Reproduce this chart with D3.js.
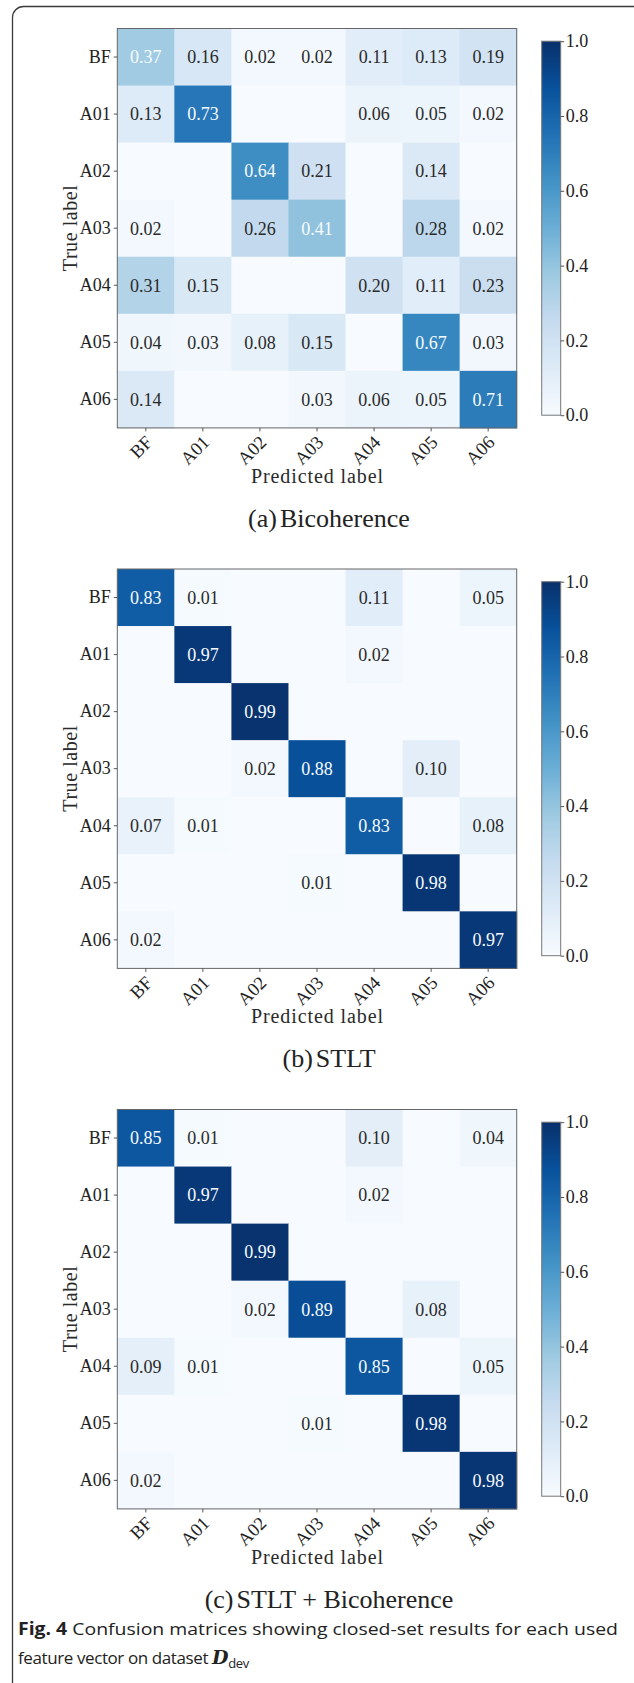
<!DOCTYPE html>
<html>
<head>
<meta charset="utf-8">
<script src="https://cdn.jsdelivr.net/npm/d3@7"></script>
<style>
  body { margin: 0; background: #fff; }
  svg { display: block; }
  .tick text { fill: #222; }
</style>
</head>
<body>
<div id="chart"></div>
<script>
const labels = ["BF", "A01", "A02", "A03", "A04", "A05", "A06"];

// rows = true label, columns = predicted label (0 = blank cell)
const bicoherence = [
  [0.37, 0.16, 0.02, 0.02, 0.11, 0.13, 0.19],
  [0.13, 0.73, 0, 0, 0.06, 0.05, 0.02],
  [0, 0, 0.64, 0.21, 0, 0.14, 0],
  [0.02, 0, 0.26, 0.41, 0, 0.28, 0.02],
  [0.31, 0.15, 0, 0, 0.20, 0.11, 0.23],
  [0.04, 0.03, 0.08, 0.15, 0, 0.67, 0.03],
  [0.14, 0, 0, 0.03, 0.06, 0.05, 0.71]
];
const stlt = [
  [0.83, 0.01, 0, 0, 0.11, 0, 0.05],
  [0, 0.97, 0, 0, 0.02, 0, 0],
  [0, 0, 0.99, 0, 0, 0, 0],
  [0, 0, 0.02, 0.88, 0, 0.10, 0],
  [0.07, 0.01, 0, 0, 0.83, 0, 0.08],
  [0, 0, 0, 0.01, 0, 0.98, 0],
  [0.02, 0, 0, 0, 0, 0, 0.97]
];
const stltBicoherence = [
  [0.85, 0.01, 0, 0, 0.10, 0, 0.04],
  [0, 0.97, 0, 0, 0.02, 0, 0],
  [0, 0, 0.99, 0, 0, 0, 0],
  [0, 0, 0.02, 0.89, 0, 0.08, 0],
  [0.09, 0.01, 0, 0, 0.85, 0, 0.05],
  [0, 0, 0, 0.01, 0, 0.98, 0],
  [0.02, 0, 0, 0, 0, 0, 0.98]
];
const panelTags = ["(a)", "(b)", "(c)"];
const panelNames = ["Bicoherence", "STLT", "STLT + Bicoherence"];
const colorbarTicks = [0, 0.2, 0.4, 0.6, 0.8, 1.0];

const width = 634;
const height = 1683;
const serif = "'Liberation Serif', 'Times New Roman', serif";
const panelStep = 540.5;
const firstTop = 28.5;
const matrixLeft = 117.3;
const matrixSize = 399.4;

const blues = d3.scaleLinear()
  .domain(d3.range(9).map((i) => i / 8))
  .range(d3.schemeBlues[9])
  .interpolate(d3.interpolateRgb)
  .clamp(true);

const svg = d3.select("#chart").append("svg")
  .attr("width", width)
  .attr("height", height)
  .attr("viewBox", `0 0 ${width} ${height}`);

svg.append("rect").attr("width", width).attr("height", height).attr("fill", "#fff");

// page frame (cut off on the right and at the bottom)
svg.append("rect")
  .attr("x", 12.5).attr("y", 6.5)
  .attr("width", 660).attr("height", 1720)
  .attr("rx", 11)
  .attr("fill", "none")
  .attr("stroke", "#3a3a3a")
  .attr("stroke-width", 1.3);

const gradient = svg.append("defs").append("linearGradient")
  .attr("id", "blues-grad")
  .attr("x1", 0).attr("y1", 1).attr("x2", 0).attr("y2", 0);
d3.range(0, 1.0001, 0.125).forEach((t) => {
  gradient.append("stop").attr("offset", t).attr("stop-color", blues(t));
});

function drawPanel(matrix, index) {
  const top = firstTop + index * panelStep;
  const g = svg.append("g").attr("transform", `translate(${matrixLeft},${top})`);

  const x = d3.scaleBand().domain(labels).range([0, matrixSize]);
  const y = d3.scaleBand().domain(labels).range([0, matrixSize]);

  const flat = matrix.flat();
  const thresh = (d3.max(flat) + d3.min(flat)) / 2;
  const cells = [];
  matrix.forEach((row, i) => row.forEach((value, j) => {
    cells.push({ trueLabel: labels[i], predLabel: labels[j], value });
  }));

  g.selectAll("rect.cell")
    .data(cells)
    .enter()
    .append("rect")
    .attr("class", "cell")
    .attr("x", (d) => x(d.predLabel))
    .attr("y", (d) => y(d.trueLabel))
    .attr("width", x.bandwidth() + 0.5)
    .attr("height", y.bandwidth() + 0.5)
    .attr("fill", (d) => blues(d.value));

  g.selectAll("text.cell-value")
    .data(cells.filter((d) => d.value > 0))
    .enter()
    .append("text")
    .attr("class", "cell-value")
    .attr("x", (d) => x(d.predLabel) + x.bandwidth() / 2)
    .attr("y", (d) => y(d.trueLabel) + y.bandwidth() / 2)
    .attr("dy", "0.35em")
    .attr("text-anchor", "middle")
    .style("font-family", serif)
    .style("font-size", "18px")
    .attr("fill", (d) => (d.value > thresh ? blues(0) : "#2a2a2a"))
    .text((d) => d.value.toFixed(2));

  g.append("rect")
    .attr("width", matrixSize)
    .attr("height", matrixSize)
    .attr("fill", "none")
    .attr("stroke", "#666")
    .attr("stroke-width", 1);

  g.append("g")
    .call(d3.axisLeft(y).tickSize(3.5).tickPadding(3))
    .call((a) => a.select(".domain").remove())
    .call((a) => a.selectAll("line").attr("stroke", "#555"))
    .call((a) => a.selectAll("text")
      .style("font-family", serif)
      .style("font-size", "18px"));

  g.append("g")
    .attr("transform", `translate(0,${matrixSize})`)
    .call(d3.axisBottom(x).tickSize(3.5))
    .call((a) => a.select(".domain").remove())
    .call((a) => a.selectAll("line").attr("stroke", "#555"))
    .call((a) => a.selectAll("text")
      .attr("y", 0).attr("dy", "0.35em")
      .attr("text-anchor", "end")
      .attr("transform", "translate(3,11) rotate(-45)")
      .style("font-family", serif)
      .style("font-size", "18.5px"));

  g.append("text")
    .attr("x", matrixSize / 2)
    .attr("y", 454)
    .attr("text-anchor", "middle")
    .attr("textLength", 132)
    .attr("lengthAdjust", "spacing")
    .style("font-family", serif)
    .style("font-size", "20px")
    .attr("fill", "#2a2a2a")
    .text("Predicted label");

  g.append("text")
    .attr("transform", `translate(${70 - matrixLeft},${matrixSize / 2}) rotate(-90)`)
    .attr("dy", "0.35em")
    .attr("text-anchor", "middle")
    .attr("textLength", 86)
    .attr("lengthAdjust", "spacing")
    .style("font-family", serif)
    .style("font-size", "20px")
    .attr("fill", "#2a2a2a")
    .text("True label");

  // colorbar
  const barX = 541.7 - matrixLeft;
  const barW = 19;
  const c = d3.scaleLinear().domain([0, 1]).range([386.7, 12.7]);
  g.append("rect")
    .attr("x", barX).attr("y", c(1))
    .attr("width", barW).attr("height", c(0) - c(1))
    .attr("fill", "url(#blues-grad)")
    .attr("stroke", "#777")
    .attr("stroke-width", 1);
  g.append("g")
    .attr("transform", `translate(${barX + barW},0)`)
    .call(d3.axisRight(c).tickValues(colorbarTicks).tickFormat(d3.format(".1f")).tickSize(3.5).tickPadding(1.5))
    .call((a) => a.select(".domain").remove())
    .call((a) => a.selectAll("line").attr("stroke", "#555"))
    .call((a) => a.selectAll("text")
      .style("font-family", serif)
      .style("font-size", "18px"));

  // sub-figure caption
  const cap = svg.append("text")
    .attr("x", 329)
    .attr("y", top + 498)
    .attr("text-anchor", "middle")
    .style("font-family", serif)
    .style("font-size", "26px")
    .attr("fill", "#222");
  cap.append("tspan").text(panelTags[index]);
  cap.append("tspan").attr("dx", 3).text(panelNames[index]);
}

[bicoherence, stlt, stltBicoherence].forEach(drawPanel);

// figure caption
const sans = "'Open Sans', 'Noto Sans', sans-serif";
const line1 = svg.append("text")
  .attr("x", 18)
  .attr("y", 1635)
  .attr("textLength", 600)
  .attr("lengthAdjust", "spacingAndGlyphs")
  .style("font-family", sans)
  .style("font-size", "17px")
  .attr("fill", "#222");
line1.append("tspan").style("font-weight", "700").text("Fig. 4");
line1.append("tspan").text(" Confusion matrices showing closed-set results for each used");

const line2 = svg.append("text")
  .attr("x", 18)
  .attr("y", 1664)
  .style("font-family", sans)
  .style("font-size", "17px")
  .style("letter-spacing", "-0.4px")
  .attr("fill", "#222");
line2.append("tspan").text("feature vector on dataset ");
line2.append("tspan")
  .style("font-family", "'DejaVu Serif', serif")
  .style("font-style", "italic")
  .style("font-weight", "700")
  .style("font-size", "19px")
  .text("D");
line2.append("tspan")
  .attr("dy", 4)
  .style("font-size", "13px")
  .text("dev");
</script>
</body>
</html>
